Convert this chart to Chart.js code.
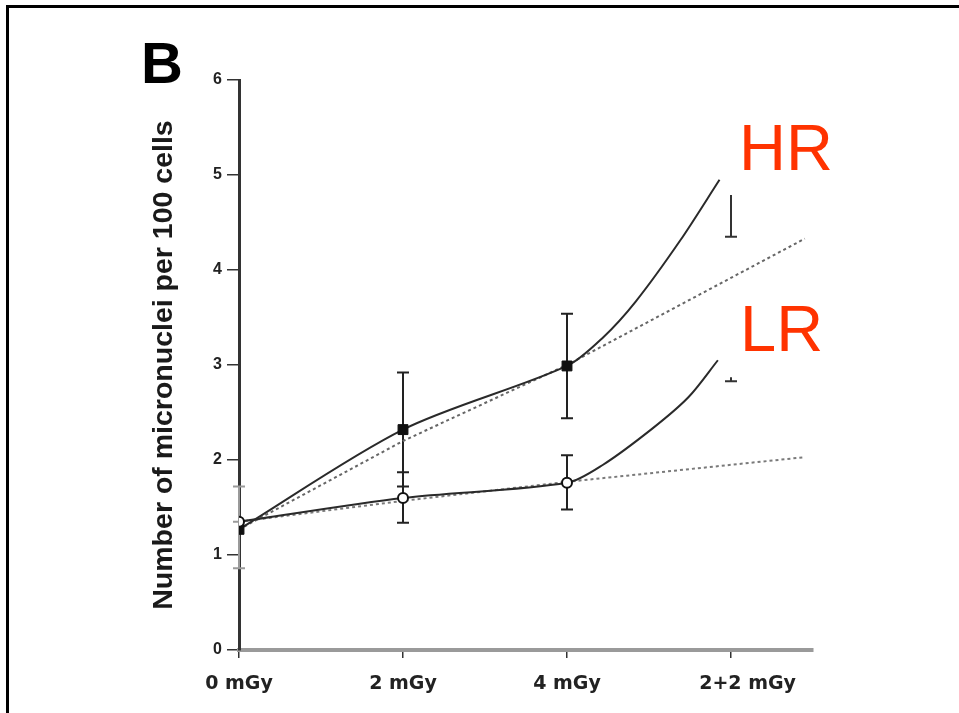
<!DOCTYPE html>
<html>
<head>
<meta charset="utf-8">
<title>Micronuclei per 100 cells</title>
<script src="https://cdn.jsdelivr.net/npm/chart.js@4.4.0/dist/chart.umd.min.js"></script>
<style>
  html, body { margin: 0; padding: 0; background: #fff; }
  body { width: 959px; height: 713px; overflow: hidden; position: relative; }
  #frame {
    position: absolute; left: 6px; top: 5px; right: -20px; bottom: -20px;
    border-top: 3px solid #000; border-left: 3px solid #000;
  }
  #wrap { position: absolute; left: 0; top: 0; width: 959px; height: 713px; }
  .lbl { position: absolute; line-height: 1; white-space: nowrap; font-family: "Liberation Sans", Arial, sans-serif; }
  #panel { left: 141px; top: 34px; font-size: 58px; font-weight: bold; color: #000; }
  #hr { left: 739px; top: 115px; font-size: 65px; color: #ff3300; }
  #lr { left: 740px; top: 296px; font-size: 65px; color: #ff3300; }
</style>
</head>
<body>
<div id="frame"></div>
<div id="wrap"><canvas id="chart" width="959" height="713"></canvas></div>
<div class="lbl" id="panel">B</div>
<div class="lbl" id="hr">HR</div>
<div class="lbl" id="lr">LR</div>
<script>
// dose groups on the x axis
const xLabels = ["0 mGy", "2 mGy", "4 mGy", "2+2 mGy"];

// measured means (HR = filled squares, LR = open circles)
const hrMean = [1.27, 2.32, 2.99];
const lrMean = [1.35, 1.60, 1.76];

// error bar ends, one per dose group
const hrErrLow = [0.86, 1.72, 2.44, 4.35];
const hrErrHigh = [1.72, 2.92, 3.54, 4.79];
const hrTopCap = [true, true, true, false];
const lrErrLow = [1.35, 1.34, 1.48, 2.83];
const lrErrHigh = [1.35, 1.87, 2.05, 2.87];
const lrTopCap = [false, true, true, false];

// solid curves
const hrCurveX = [0, 1, 2, 2.22, 2.42, 2.69, 2.93];
const hrCurveY = [1.27, 2.32, 2.99, 3.29, 3.67, 4.31, 4.95];
const lrCurveX = [0, 1, 2, 2.22, 2.52, 2.74, 2.92];
const lrCurveY = [1.35, 1.60, 1.76, 1.95, 2.33, 2.66, 3.05];

// dotted additive lines
const hrFitX = [0, 1, 2, 3.45];
const hrFitY = [1.27, 2.20, 3.00, 4.33];
const lrFitX = [0, 1, 2, 3.45];
const lrFitY = [1.35, 1.57, 1.77, 2.03];

function toPoints(xs, ys) {
  return xs.map((x, i) => ({ x: x, y: ys[i] }));
}

function drawBars(chart, lows, highs, topCaps, colors) {
  const ctx = chart.ctx;
  const xScale = chart.scales.x;
  const yScale = chart.scales.y;
  ctx.save();
  ctx.lineWidth = 2;
  lows.forEach((low, i) => {
    const px = xScale.getPixelForValue(i);
    const yLow = yScale.getPixelForValue(low);
    const yHigh = yScale.getPixelForValue(highs[i]);
    ctx.strokeStyle = colors[i];
    ctx.beginPath();
    ctx.moveTo(px, yLow);
    ctx.lineTo(px, yHigh);
    ctx.moveTo(px - 6, yLow);
    ctx.lineTo(px + 6, yLow);
    if (topCaps[i]) {
      ctx.moveTo(px - 6, yHigh);
      ctx.lineTo(px + 6, yHigh);
    }
    ctx.stroke();
  });
  ctx.restore();
}

const errorBars = {
  id: "errorBars",
  beforeDatasetsDraw(chart) {
    // the bars on the 0 mGy axis are faint in the original
    const colors = ["#9a9a9a", "#222", "#222", "#333"];
    drawBars(chart, hrErrLow, hrErrHigh, hrTopCap, colors);
    drawBars(chart, lrErrLow, lrErrHigh, lrTopCap, colors);
  }
};

document.addEventListener("DOMContentLoaded", function () {
  const canvas = document.getElementById("chart");

  new Chart(canvas, {
    type: "scatter",
    data: {
      datasets: [
        {
          label: "LR",
          data: toPoints([0, 1, 2], lrMean),
          pointStyle: "circle",
          pointRadius: 5,
          pointBackgroundColor: "#fff",
          pointBorderColor: "#111",
          pointBorderWidth: 2,
          showLine: false,
          order: 0
        },
        {
          label: "HR",
          data: toPoints([0, 1, 2], hrMean),
          pointStyle: "rect",
          pointRadius: 7,
          pointBackgroundColor: "#111",
          pointBorderColor: "#111",
          pointBorderWidth: 1,
          showLine: false,
          order: 1
        },
        {
          label: "HR curve",
          data: toPoints(hrCurveX, hrCurveY),
          showLine: true,
          borderColor: "#2a2a2a",
          borderWidth: 2,
          pointRadius: 0,
          tension: 0.3,
          order: 2
        },
        {
          label: "LR curve",
          data: toPoints(lrCurveX, lrCurveY),
          showLine: true,
          borderColor: "#2a2a2a",
          borderWidth: 2,
          pointRadius: 0,
          tension: 0.3,
          order: 3
        },
        {
          label: "HR additive",
          data: toPoints(hrFitX, hrFitY),
          showLine: true,
          borderColor: "#666",
          borderWidth: 2,
          borderDash: [3, 3],
          pointRadius: 0,
          order: 4
        },
        {
          label: "LR additive",
          data: toPoints(lrFitX, lrFitY),
          showLine: true,
          borderColor: "#7a7a7a",
          borderWidth: 2,
          borderDash: [3, 3],
          pointRadius: 0,
          order: 5
        }
      ]
    },
    options: {
      responsive: false,
      animation: false,
      devicePixelRatio: 1,
      layout: { padding: { left: 130, right: 146, top: 80, bottom: 0 } },
      plugins: {
        legend: { display: false },
        tooltip: { enabled: false }
      },
      scales: {
        x: {
          type: "linear",
          min: 0,
          max: 3.5,
          afterBuildTicks: (scale) => {
            scale.ticks = xLabels.map((_, i) => ({ value: i }));
          },
          afterFit: (scale) => { scale.height = 63; },
          ticks: {
            padding: 15,
            maxRotation: 0,
            autoSkip: false,
            color: "#222",
            font: { family: "DejaVu Sans", weight: "bold", size: 19 },
            callback: (v) => {
              const i = Math.round(v);
              // the last label sits a little right of its tick in the original
              return i === xLabels.length - 1 ? "     " + xLabels[i] : xLabels[i];
            }
          },
          grid: {
            drawOnChartArea: false,
            drawTicks: true,
            tickLength: 8,
            color: "#333",
            lineWidth: 1.5
          },
          border: { display: true, color: "#9a9a9a", width: 4 }
        },
        y: {
          min: 0,
          max: 6,
          afterFit: (scale) => { scale.width = 109; },
          ticks: {
            stepSize: 1,
            padding: 5,
            color: "#222",
            font: { family: "Liberation Sans", weight: "bold", size: 16 }
          },
          grid: {
            drawOnChartArea: false,
            drawTicks: true,
            tickLength: 12,
            color: "#333",
            lineWidth: 1.5
          },
          border: { display: true, color: "#333", width: 3 },
          title: {
            display: true,
            text: "Number of micronuclei per 100 cells",
            color: "#1a1a1a",
            padding: { top: 17, bottom: 0 },
            font: { family: "Liberation Sans", weight: "bold", size: 28.5 }
          }
        }
      }
    },
    plugins: [errorBars]
  });
});
</script>
</body>
</html>
